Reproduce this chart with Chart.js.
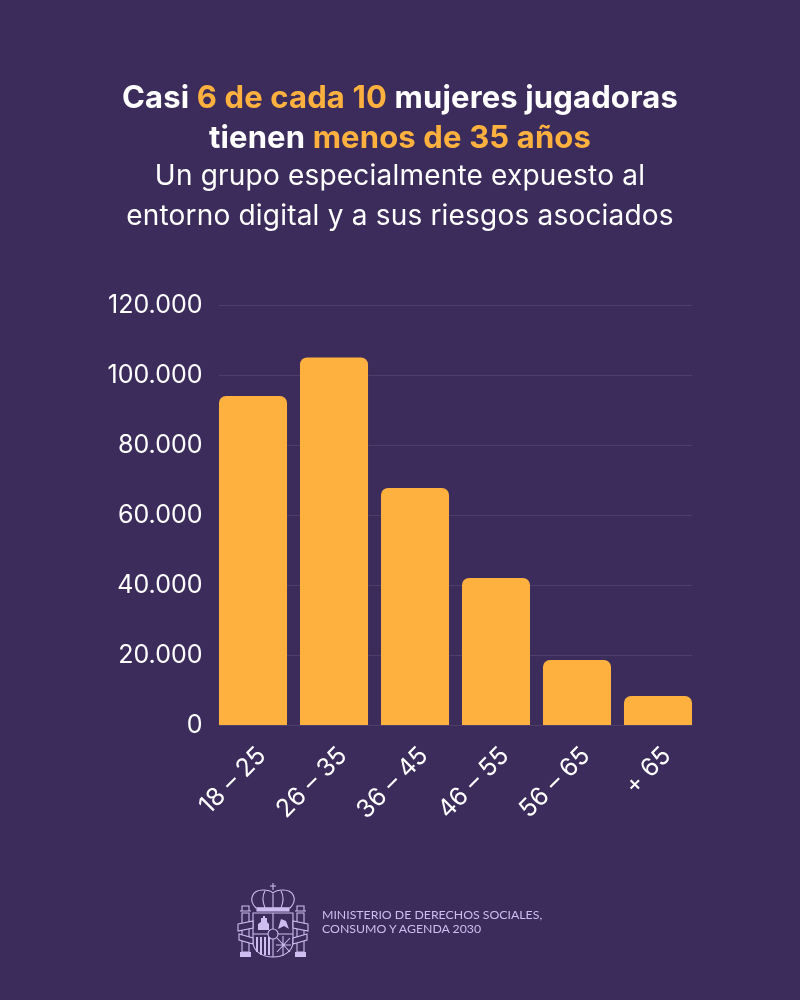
<!DOCTYPE html>
<html lang="es">
<head>
<meta charset="utf-8">
<title>Mujeres jugadoras por edad</title>
<script src="https://cdn.jsdelivr.net/npm/chart.js@4"></script>
<style>
  html, body { margin: 0; padding: 0; background: #3c2c5b; }
  #page { position: relative; width: 800px; height: 1000px; overflow: hidden; background: #3c2c5b; font-family: Inter, sans-serif; }
  #chart { position: absolute; left: 0; top: 0; }
  .line { position: absolute; left: 0; width: 800px; text-align: center; white-space: nowrap; color: #fff; }
  .head { font-size: 31px; font-weight: 700; line-height: 38px; letter-spacing: 0.15px; }
  .sub { font-size: 28px; font-weight: 400; line-height: 36px; letter-spacing: 0.2px; }
  .head b { color: #ffb13f; font-weight: 700; }
  #crest { position: absolute; left: 237px; top: 882px; }
  .foot { position: absolute; left: 322px; color: #cdbdf0; font-family: Lato, sans-serif; font-size: 12.3px; line-height: 14px; white-space: nowrap; }
</style>
</head>
<body>
<div id="page">
  <canvas id="chart" width="800" height="1000"></canvas>
  <div class="line head" style="top:78px">Casi <b>6 de cada 10</b> mujeres jugadoras</div>
  <div class="line head" style="top:118px">tienen <b>menos de 35 años</b></div>
  <div class="line sub" style="top:157px">Un grupo especialmente expuesto al</div>
  <div class="line sub" style="top:197px">entorno digital y a sus riesgos asociados</div>

  <svg id="crest" width="74" height="78" viewBox="0 0 74 78" fill="none" stroke="#cdbdf0" stroke-width="1.1">
    <!-- crown -->
    <path d="M36 1v7M33 4h6"/>
    <path d="M19 26c-8-8-4-18 7-18 4 0 8 1 10 3 2-2 6-3 10-3 11 0 15 10 7 18z"/>
    <path d="M28 9c-3 5-2 12 0 17M44 9c3 5 2 12 0 17M36 12v14"/>
    <rect x="20" y="26" width="32" height="3" fill="#cdbdf0"/>
    <!-- shield -->
    <path d="M16 31h40v29c0 9-9 15-20 15s-20-6-20-15z"/>
    <path d="M36 31v44M16 52h40"/>
    <path d="M21 48v-6l3-2v-4h2v-2h2v2h2v4l2 2v6z" fill="#cdbdf0" stroke="none"/>
    <path d="M41 47l3-10 5 2 3 8-5-3z" fill="#cdbdf0" stroke="none"/>
    <path d="M20 55v15M24 55v18M28 55v18M32 55v18" stroke-width="2"/>
    <path d="M40 56l13 14M53 56l-13 14M46 54v20M39 63h15"/>
    <circle cx="36" cy="52" r="5" fill="#3c2c5b"/>
    <!-- pillars -->
    <path d="M5 31h7v39h-7zM60 31h7v39h-7z"/>
    <path d="M3 70h11v5h-11zM58 70h11v5h-11z" fill="#cdbdf0" stroke="none"/>
    <path d="M3 29h11M58 29h11M5 24h7v5h-7zM60 24h7v5h-7z"/>
    <path d="M1 42l15-3v7l-15 3zM71 42l-15-3v7l15 3zM2 52l14 4v6l-14-4zM70 52l-14 4v6l14-4z" fill="#3c2c5b"/>
  </svg>
  <div class="foot" style="top:908px">MINISTERIO DE DERECHOS SOCIALES,</div>
  <div class="foot" style="top:922px">CONSUMO Y AGENDA 2030</div>
</div>
<script>
// -- DATA
const ageGroups = ['18 – 25', '26 – 35', '36 – 45', '46 – 55', '56 – 65', '+ 65'];
const players   = [94000, 105000, 67700, 42000, 18600, 8300];
const yTicks    = [0, 20000, 40000, 60000, 80000, 100000, 120000];

const BAR_COLOR = '#ffb140';
const GRID_COLOR = 'rgba(255,255,255,0.09)';

// grid stops at the outer edges of the first and last bar, not at the category edges
const shortGrid = {
  id: 'shortGrid',
  beforeDatasetsDraw(chart) {
    const bars = chart.getDatasetMeta(0).data;
    const first = bars[0], last = bars[bars.length - 1];
    const ctx = chart.ctx;
    ctx.save();
    ctx.strokeStyle = GRID_COLOR;
    ctx.lineWidth = 1;
    yTicks.forEach(v => {
      const y = Math.round(chart.scales.y.getPixelForValue(v)) + 0.5;
      ctx.beginPath();
      ctx.moveTo(first.x - first.width / 2, y);
      ctx.lineTo(last.x + last.width / 2, y);
      ctx.stroke();
    });
    ctx.restore();
  }
};

new Chart(document.getElementById('chart'), {
  type: 'bar',
  data: {
    labels: ageGroups,
    datasets: [{
      data: players,
      backgroundColor: BAR_COLOR,
      borderRadius: { topLeft: 7, topRight: 7, bottomLeft: 0, bottomRight: 0 },
      borderSkipped: 'bottom',
      categoryPercentage: 1,
      barPercentage: 0.84
    }]
  },
  plugins: [shortGrid],
  options: {
    responsive: false,
    animation: false,
    layout: { padding: { top: 305, right: 101.5, left: 0, bottom: 0 } },
    plugins: { legend: { display: false }, tooltip: { enabled: false } },
    scales: {
      x: {
        afterFit: s => { s.height = 275; },
        grid: { display: false },
        border: { display: false },
        ticks: {
          color: '#fff',
          font: { family: 'Inter', size: 25 },
          minRotation: 45, maxRotation: 45,
          autoSkip: false,
          padding: 8,
          labelOffset: 9
        }
      },
      y: {
        min: 0, max: 120000,
        afterFit: s => { s.width = 212.5; },
        afterBuildTicks: s => { s.ticks = yTicks.map(v => ({ value: v })); },
        grid: { display: false },
        border: { display: false },
        ticks: {
          color: '#fff',
          font: { family: 'Inter', size: 25 },
          padding: 2,
          callback: v => String(v).replace(/\B(?=(\d{3})+$)/g, '.')
        }
      }
    }
  }
});
</script>
</body>
</html>
